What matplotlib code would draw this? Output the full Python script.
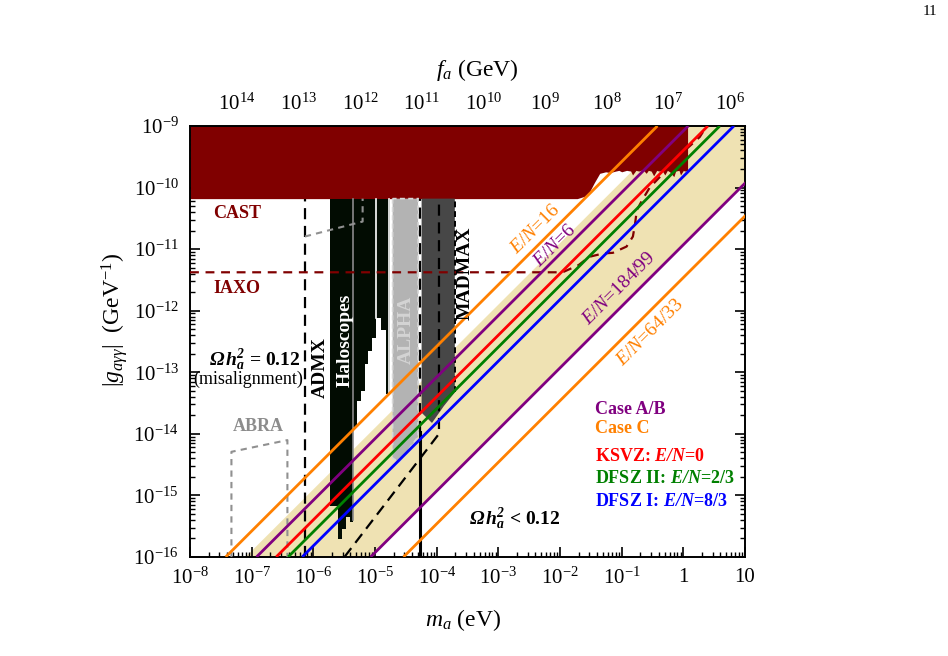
import matplotlib
matplotlib.use("Agg")
import matplotlib.pyplot as plt
from matplotlib.ticker import FixedLocator, FixedFormatter, LogLocator, NullFormatter

plt.rcParams['font.family'] = ['Liberation Serif', 'DejaVu Serif']
plt.rcParams['mathtext.fontset'] = 'custom'
plt.rcParams['mathtext.rm'] = 'Liberation Serif'
plt.rcParams['mathtext.it'] = 'Liberation Serif:italic'
plt.rcParams['mathtext.bf'] = 'Liberation Serif:bold'
plt.rcParams['mathtext.bfit'] = 'Liberation Serif:bold:italic'

# --- data -----------------------------------------------------------------
# coupling lines: mass (eV) where each line crosses g = 1e-16 and g = 1e-9
line_g = [1e-16, 1e-9]
line_m_lo = [3.8e-8, 1.2e-7, 2.5e-7, 3.9e-7, 6.6e-7, 8.5e-6, 2.9e-5]
line_m_hi = [0.38, 1.2, 2.5, 3.9, 6.6, 85.0, 290.0]
line_colors = ['#ff8000', '#800080', '#ff0000', '#008000', '#0000ff', '#800080', '#ff8000']

# yellow band edges (same convention)
band_upper_m = [8.0e-8, 0.80]
band_lower_m = [8.5e-6, 85.0]

# CAST exclusion (lower edge)
cast_m = [1e-8, 0.019, 0.025, 0.030, 0.036, 0.044, 0.055, 0.065, 0.08, 0.09, 0.10,
          0.12, 0.14, 0.15, 0.17, 0.19, 0.22, 0.25, 0.27, 0.30, 0.33, 0.37, 0.40,
          0.45, 0.5, 0.55, 0.6, 0.7, 0.75, 0.85, 0.9, 1.0, 1.05, 1.17]
cast_g = [6.6e-11, 6.6e-11, 7.2e-11, 8.5e-11, 1.2e-10, 1.7e-10, 1.8e-10, 1.75e-10,
          1.85e-10, 1.9e-10, 1.8e-10, 1.9e-10, 1.85e-10, 1.6e-10, 1.9e-10, 1.85e-10,
          1.95e-10, 1.7e-10, 1.9e-10, 1.85e-10, 1.55e-10, 1.9e-10, 1.85e-10,
          1.9e-10, 1.6e-10, 1.9e-10, 1.8e-10, 1.5e-10, 1.85e-10, 1.9e-10, 1.6e-10,
          1.9e-10, 1.85e-10, 1.9e-10]
cast_floor = 6.6e-11

# IAXO projection
iaxo_m = [1e-8, 0.011, 0.020, 0.030, 0.050, 0.072, 0.12, 0.152, 0.165, 0.176,
          0.22, 0.285, 0.42, 0.60, 1.0, 1.84, 2.4]
iaxo_g = [4.2e-12, 4.2e-12, 5.5e-12, 7.5e-12, 8.5e-12, 8.7e-12, 1.1e-11, 1.6e-11,
          2.6e-11, 4.3e-11, 6.5e-11, 1.0e-10, 1.5e-10, 2.2e-10, 3.8e-10, 6.6e-10, 1e-9]

# haloscope exclusion (stepped lower edge)
halo_m = [1.86e-6, 2.51e-6, 2.91e-6, 3.38e-6, 3.92e-6, 4.38e-6, 5.09e-6, 5.91e-6,
          6.86e-6, 7.67e-6, 8.91e-6, 1.03e-5, 1.25e-5, 1.50e-5, 1.74e-5]
halo_g = [6.7e-16, 1.95e-16, 2.8e-16, 4.4e-16, 3.7e-16, 1.27e-14, 3.4e-14, 4.9e-14,
          1.35e-13, 2.2e-13, 3.65e-13, 7.7e-13, 4.9e-13, 4.4e-14, 4.4e-14]
halo_gap_m = [4.4e-6, 1.03e-5, 1.7e-5]
halo_gap_g = [4.0e-16, 7.7e-13, 4.4e-14]
halo_gap_c = ['#8a8a8a', 'white', 'white']

alpha_m = [1.93e-5, 1.93e-5, 2.5e-5, 5.0e-5, 5.0e-5]
alpha_g = [6.6e-11, 4.0e-15, 3.5e-15, 9.0e-15, 6.6e-11]

madmax_m = [5.7e-5, 5.7e-5, 8.4e-5, 1.3e-4, 1.97e-4, 1.97e-4]
madmax_g = [6.6e-11, 2.2e-14, 1.5e-14, 2.8e-14, 4.7e-14, 6.6e-11]

admx_m = 7.3e-7
proj_m = [7.3e-7, 6.3e-6, 6.3e-6]
proj_g = [1.6e-11, 2.8e-11, 6.6e-11]

abra_m = [4.7e-8, 4.7e-8, 3.8e-7, 3.8e-7]
abra_g = [1e-16, 5.1e-15, 7.9e-15, 1e-16]

mis_m = [3.2e-6, 1.09e-4, 1.09e-4]
mis_g = [1e-16, 1.0e-14, 6.6e-11]
edge_m = 5.3e-5
edge_g_split = 1.05e-14

x_ticks = [1e-8, 1e-7, 1e-6, 1e-5, 1e-4, 1e-3, 1e-2, 1e-1, 1, 10]
x_labels = ['$10^{-8}$', '$10^{-7}$', '$10^{-6}$', '$10^{-5}$', '$10^{-4}$',
            '$10^{-3}$', '$10^{-2}$', '$10^{-1}$', '1', '10']
y_ticks = [1e-16, 1e-15, 1e-14, 1e-13, 1e-12, 1e-11, 1e-10, 1e-9]
y_labels = ['$10^{-16}$', '$10^{-15}$', '$10^{-14}$', '$10^{-13}$', '$10^{-12}$',
            '$10^{-11}$', '$10^{-10}$', '$10^{-9}$']
fa_ticks = [1e14, 1e13, 1e12, 1e11, 1e10, 1e9, 1e8, 1e7, 1e6]
fa_labels = ['$10^{14}$', '$10^{13}$', '$10^{12}$', '$10^{11}$', '$10^{10}$',
             '$10^{9}$', '$10^{8}$', '$10^{7}$', '$10^{6}$']
fa_scale = 5.7e6  # f_a [GeV] * m_a [eV]

# --- figure ------------------------------------------------------------------
fig = plt.figure(figsize=(9.48, 6.56), dpi=100)
ax = fig.add_axes([0.2004, 0.151, 0.5855, 0.657])
ax.set_xscale('log')
ax.set_yscale('log')
ax.set_xlim(1e-8, 10)
ax.set_ylim(1e-16, 1e-9)

tan = '#efe2b3'
dred = '#800000'

# band
ax.fill([band_upper_m[0], band_upper_m[1], band_lower_m[1], band_lower_m[0]],
        [line_g[0], line_g[1], line_g[1], line_g[0]], color=tan, lw=0, zorder=1)

# CAST
ax.fill_between(cast_m, cast_g, 1e-9, color=dred, lw=0, zorder=2)

# haloscopes, ALPHA, MADMAX
ax.fill_between(halo_m, halo_g, cast_floor, step='post', color='#020c02', lw=0, zorder=2)
for m, g, c in zip(halo_gap_m, halo_gap_g, halo_gap_c):
    ax.plot([m, m], [g, cast_floor], color=c, lw=1.2, zorder=2.5)
ax.fill(alpha_m, alpha_g, facecolor='#b3b3b3', edgecolor='#d8d8d8', lw=1.2,
        ls=(0, (3, 2)), zorder=2)
ax.fill(madmax_m, madmax_g, facecolor='#474747', lw=0, zorder=2)

# dashed boundaries
dash = (0, (5, 3))
ax.plot([admx_m, admx_m], [1e-16, cast_floor], color='black', lw=1.6, ls=dash, zorder=3)
ax.plot(proj_m, proj_g, color='#909090', lw=1.5, ls=(0, (3, 2.5)), zorder=3)
ax.plot(abra_m, abra_g, color='#909090', lw=1.5, ls=(0, (3, 2.5)), zorder=3)
ax.plot(mis_m, mis_g, color='black', lw=1.6, ls=dash, zorder=3)
ax.plot([edge_m, edge_m], [1e-16, edge_g_split], color='black', lw=2.2, zorder=3)
ax.plot([edge_m, edge_m], [edge_g_split, cast_floor], color='black', lw=1.6, ls=dash, zorder=3)
ax.plot([madmax_m[-1], madmax_m[-1]], [madmax_g[-2], cast_floor], color='black',
        lw=1.4, ls=(0, (3, 2)), zorder=3)
ax.plot(iaxo_m, iaxo_g, color=dred, lw=1.6, ls=(0, (4, 3)), zorder=3)

# coupling lines
for lo, hi, c in zip(line_m_lo, line_m_hi, line_colors):
    ax.plot([lo, hi], line_g, color=c, lw=2.0, zorder=4, solid_capstyle='butt')

# axes styling
for s in ax.spines.values():
    s.set_linewidth(1.4)
ax.xaxis.set_major_locator(FixedLocator(x_ticks))
ax.xaxis.set_major_formatter(FixedFormatter(x_labels))
ax.xaxis.set_minor_locator(LogLocator(base=10, subs=range(2, 10), numticks=20))
ax.xaxis.set_minor_formatter(NullFormatter())
ax.yaxis.set_major_locator(FixedLocator(y_ticks))
ax.yaxis.set_major_formatter(FixedFormatter(y_labels))
ax.yaxis.set_minor_locator(LogLocator(base=10, subs=range(2, 10), numticks=20))
ax.yaxis.set_minor_formatter(NullFormatter())
ax.tick_params(which='both', direction='in', top=False, right=True, labelsize=15, pad=8)
ax.tick_params(which='major', length=7, width=1.2)
ax.tick_params(which='minor', length=3.5, width=1)

sec = ax.secondary_xaxis('top', functions=(lambda m: fa_scale / m, lambda f: fa_scale / f))
sec.xaxis.set_major_locator(FixedLocator(fa_ticks))
sec.xaxis.set_major_formatter(FixedFormatter(fa_labels))
sec.xaxis.set_minor_locator(LogLocator(base=10, subs=range(2, 10), numticks=30))
sec.xaxis.set_minor_formatter(NullFormatter())
sec.tick_params(which='both', direction='in', labelsize=15, pad=8)
sec.tick_params(which='major', length=7, width=1.2)
sec.tick_params(which='minor', length=3.5, width=1)

# axis labels
fig.text(0.488, 0.055, r'$m_a$ (eV)', ha='center', va='center', fontsize=17)
fig.text(0.504, 0.893, r'$f_a$ (GeV)', ha='center', va='center', fontsize=17)
fig.text(0.121, 0.512, r'$|g_{a\gamma\gamma}|$  (GeV$^{-1}$)', ha='center', va='center',
         rotation=90, fontsize=17)
fig.text(0.981, 0.982, '11', ha='center', va='center', fontsize=11)

# region labels
T = ax.transAxes
ax.text(0.0847, 0.798, 'CAST', transform=T, color=dred, fontsize=13, fontweight='bold',
        ha='center', va='center', zorder=5)
ax.text(0.0847, 0.624, 'IAXO', transform=T, color=dred, fontsize=13, fontweight='bold',
        ha='center', va='center', zorder=5)
ax.text(0.234, 0.4385, 'ADMX', transform=T, color='black', fontsize=14, fontweight='bold',
        rotation=90, ha='center', va='center', zorder=5)
ax.text(0.279, 0.503, 'Haloscopes', transform=T, color='white', fontsize=14,
        fontweight='bold', rotation=90, ha='center', va='center', zorder=5)
ax.text(0.389, 0.527, 'ALPHA', transform=T, color='#d4d4d4', fontsize=14, fontweight='bold',
        rotation=90, ha='center', va='center', zorder=5)
ax.text(0.495, 0.659, 'MADMAX', transform=T, color='black', fontsize=14, fontweight='bold',
        rotation=90, ha='center', va='center', zorder=5)
ax.text(0.1225, 0.302, 'ABRA', transform=T, color='#8c8c8c', fontsize=13, fontweight='bold',
        ha='center', va='center', zorder=5)
ax.text(0.117, 0.457, r'$\mathbfit{\Omega\,h_a^2}$ = 0.12', transform=T, fontsize=14,
        fontweight='bold', ha='center', va='center', zorder=5)
ax.text(0.1045, 0.411, '(misalignment)', transform=T, fontsize=13, ha='center',
        va='center', zorder=5)
ax.text(0.585, 0.088, r'$\mathbfit{\Omega\,h_a^2}$ < 0.12', transform=T, fontsize=14,
        fontweight='bold', ha='center', va='center', zorder=5)

# line labels
ax.text(0.622, 0.761, r'$E/N$=16', transform=T, color='#ff8000', fontsize=14,
        rotation=45, ha='center', va='center', zorder=5)
ax.text(0.658, 0.722, r'$E/N$=6', transform=T, color='#800080', fontsize=14,
        rotation=45, ha='center', va='center', zorder=5)
ax.text(0.773, 0.622, r'$E/N$=184/99', transform=T, color='#800080', fontsize=14,
        rotation=45, ha='center', va='center', zorder=5)
ax.text(0.829, 0.52, r'$E/N$=64/33', transform=T, color='#ff8000', fontsize=14,
        rotation=45, ha='center', va='center', zorder=5)

# legend-like text
legend_items = [('Case A/B', '#800080', 0.343), ('Case C', '#ff8000', 0.297),
                (r'KSVZ: $\mathbfit{E/N}$=0', '#ff0000', 0.232),
                (r'DFSZ II: $\mathbfit{E/N}$=2/3', '#008000', 0.183),
                (r'DFSZ I: $\mathbfit{E/N}$=8/3', '#0000ff', 0.128)]
for txt, c, yy in legend_items:
    ax.text(0.730, yy, txt, transform=T, color=c, fontsize=13, fontweight='bold',
            ha='left', va='center', zorder=5)

fig.savefig('out.png', dpi=100)
